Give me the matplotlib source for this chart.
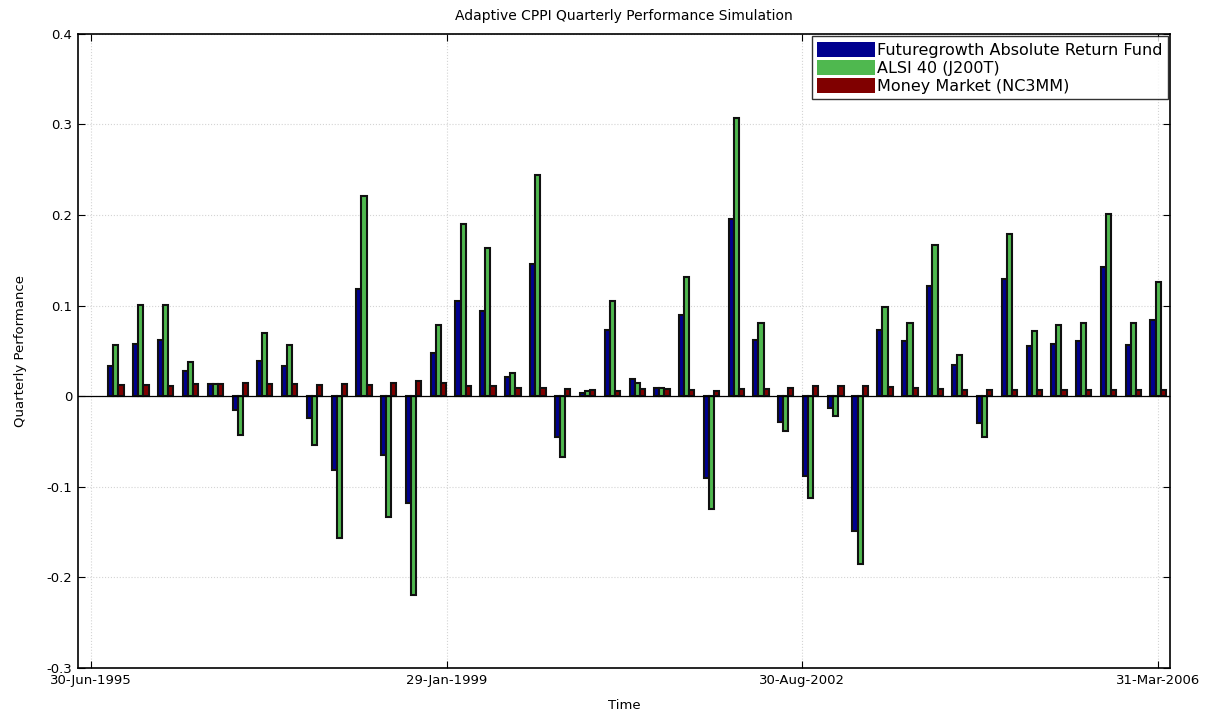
import numpy as np
import pandas as pd
import matplotlib
matplotlib.use('Agg')
import matplotlib.pyplot as plt
import matplotlib.dates as mdates
from matplotlib.patches import Patch

plt.rcParams['font.family'] = ['DejaVu Sans']

# quarter end dates, Sep 1995 .. Mar 2006
quarters = pd.date_range('1995-09-30', '2006-03-31', freq='QE')

# quarterly returns
fund = [0.033, 0.058, 0.062, 0.028, 0.013, -0.015, 0.039, 0.033, -0.024, -0.082,
        0.118, -0.065, -0.118, 0.048, 0.105, 0.094, 0.021, 0.146, -0.045, 0.004,
        0.073, 0.019, 0.009, 0.090, -0.090, 0.196, 0.062, -0.028, -0.088, -0.013,
        -0.149, 0.073, 0.061, 0.122, 0.034, -0.030, 0.129, 0.055, 0.058, 0.061,
        0.143, 0.056, 0.084]
alsi = [0.056, 0.101, 0.101, 0.038, 0.013, -0.043, 0.070, 0.056, -0.054, -0.157,
        0.221, -0.133, -0.219, 0.079, 0.190, 0.163, 0.025, 0.244, -0.067, 0.006,
        0.105, 0.015, 0.009, 0.131, -0.125, 0.307, 0.081, -0.039, -0.112, -0.022,
        -0.185, 0.098, 0.081, 0.167, 0.045, -0.045, 0.179, 0.072, 0.078, 0.081,
        0.201, 0.081, 0.126]
money = [0.012, 0.012, 0.011, 0.013, 0.013, 0.014, 0.013, 0.013, 0.012, 0.013,
         0.012, 0.015, 0.017, 0.015, 0.011, 0.011, 0.009, 0.009, 0.008, 0.007,
         0.006, 0.008, 0.008, 0.007, 0.006, 0.008, 0.008, 0.009, 0.011, 0.011,
         0.011, 0.010, 0.009, 0.008, 0.007, 0.007, 0.007, 0.007, 0.007, 0.007,
         0.007, 0.007, 0.007]

series_names = ['Futuregrowth Absolute Return Fund', 'ALSI 40 (J200T)', 'Money Market (NC3MM)']
series_colors = ['#00008f', '#4fb84f', '#800000']

tick_dates = ['1995-06-30', '1999-01-29', '2002-08-30', '2006-03-31']
tick_labels = ['30-Jun-1995', '29-Jan-1999', '30-Aug-2002', '31-Mar-2006']
y_ticks = [-0.3, -0.2, -0.1, 0, 0.1, 0.2, 0.3, 0.4]
y_tick_labels = ['-0.3', '-0.2', '-0.1', '0', '0.1', '0.2', '0.3', '0.4']

fig = plt.figure(figsize=(12.15, 7.16), dpi=100)
ax = fig.add_axes([0.064, 0.067, 0.899, 0.886])

x = mdates.date2num(quarters)
w = 19  # days
for off, vals, col in zip([-w, 0, w], [fund, alsi, money], series_colors):
    ax.bar(x + off, vals, width=w, color=col, edgecolor='#101010', linewidth=1.5,
           zorder=3)

ax.axhline(0, color='black', linewidth=0.9, zorder=4)

ax.set_xlim(mdates.date2num(pd.Timestamp('1995-05-13')),
            mdates.date2num(pd.Timestamp('2006-05-14')))
ax.set_ylim(-0.3, 0.4)
ax.set_xticks(mdates.date2num(pd.to_datetime(tick_dates)))
ax.set_xticklabels(tick_labels)
ax.set_yticks(y_ticks)
ax.set_yticklabels(y_tick_labels)
ax.tick_params(direction='in', top=True, right=True, labelsize=9.5, length=5, pad=4)
ax.grid(True, color='#d4d4d4', linestyle=':', linewidth=0.8, zorder=0)
for s in ax.spines.values():
    s.set_linewidth(1.2)

ax.set_title('Adaptive CPPI Quarterly Performance Simulation', fontsize=10, pad=10)
ax.set_xlabel('Time', fontsize=9.5, labelpad=9)
ax.set_ylabel('Quarterly Performance', fontsize=9.5, labelpad=14)

# legend patches in plain series colours
handles = [Patch(facecolor=c, edgecolor='none') for c in series_colors]
leg = ax.legend(handles, series_names, loc='upper right', fontsize=11.5,
                handlelength=3.6, handleheight=1.1, fancybox=False,
                borderaxespad=0.15, labelspacing=0.12, handletextpad=0.1,
                borderpad=0.35)
leg.get_frame().set_edgecolor('black')
leg.get_frame().set_linewidth(1.0)

fig.savefig('out.png', dpi=100)
